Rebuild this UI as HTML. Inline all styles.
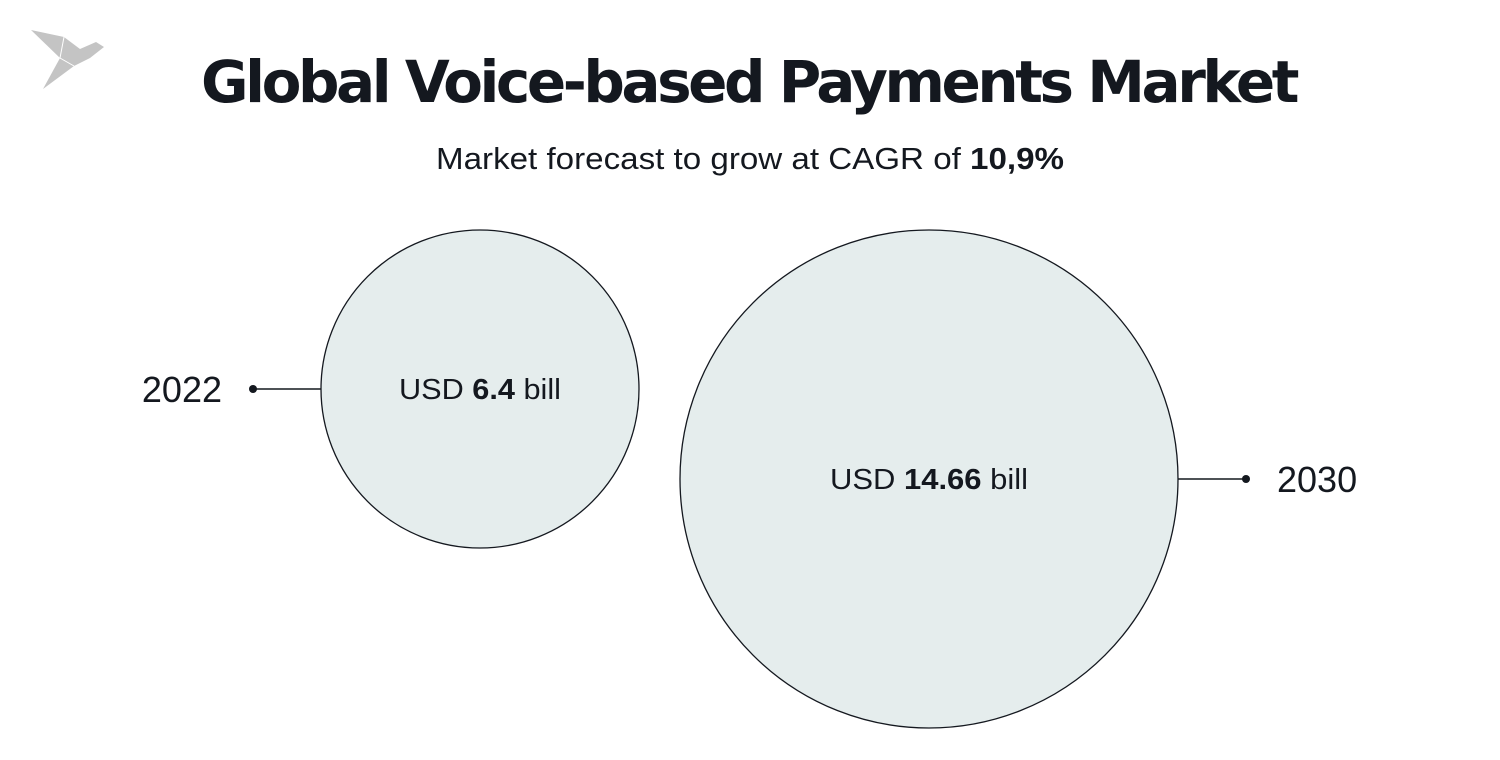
<!DOCTYPE html>
<html><head><meta charset="utf-8"><style>
body{margin:0;width:1500px;height:760px;background:#fff;overflow:hidden;font-family:"Liberation Sans",sans-serif;color:#14181f}
svg{position:absolute;left:0;top:0}
</style></head><body>
<svg width="1500" height="760" id="chart">
<g>
<polygon points="31,30 64,37 80,49 96,42 104,47 90,58 74,66 43,89 60,58" fill="#c4c4c4"/>
<polyline points="64,37 60,58 74,66" fill="none" stroke="#fff" stroke-width="1"/>
</g>
<text x="750" y="102" text-anchor="middle" font-size="58" font-weight="900" fill="#14181f" style="letter-spacing:-0.5px;font-family:'DejaVu Sans','Liberation Sans',sans-serif" textLength="1098">Global Voice-based Payments Market</text>
<text x="750" y="169" text-anchor="middle" font-size="31" fill="#14181f" textLength="628" lengthAdjust="spacingAndGlyphs">Market forecast to grow at CAGR of <tspan font-weight="bold">10,9%</tspan></text>
</svg>
<script>
const years=["2022","2030"];
const values=[6.4,14.66];
const labels=["6.4","14.66"];
const svg=document.getElementById('chart');
const NS='http://www.w3.org/2000/svg';
function rScale(v){return 159+(Math.sqrt(v)-Math.sqrt(6.4))*(90/(Math.sqrt(14.66)-Math.sqrt(6.4)));}
const cxs=[480,929],side=[-1,1],top0=230,widths=[162,198];
years.forEach((y,i)=>{
 const r=rScale(values[i]);const cx=cxs[i],cy=top0+r;
 const c=document.createElementNS(NS,'circle');
 c.setAttribute('cx',cx);c.setAttribute('cy',cy);c.setAttribute('r',r);
 c.setAttribute('fill','#e5eded');c.setAttribute('stroke','#14181f');c.setAttribute('stroke-width','1.3');
 
 
 svg.appendChild(c);
 const edge=cx+side[i]*r,end=edge+side[i]*68;
 const l=document.createElementNS(NS,'line');
 l.setAttribute('x1',edge);l.setAttribute('x2',end);l.setAttribute('y1',cy);l.setAttribute('y2',cy);
 l.setAttribute('stroke','#14181f');l.setAttribute('stroke-width','1.5');
 
 
 svg.appendChild(l);
 const d=document.createElementNS(NS,'circle');
 d.setAttribute('cx',end);d.setAttribute('cy',cy);d.setAttribute('r',4);d.setAttribute('fill','#14181f');
 
 
 svg.appendChild(d);
 const t=document.createElementNS(NS,'text');
 t.setAttribute('x',end+side[i]*31);t.setAttribute('y',cy+13);
 t.setAttribute('text-anchor',i==0?'end':'start');t.setAttribute('font-size','36');t.setAttribute('fill','#14181f');
 t.textContent=y;
 
 
 svg.appendChild(t);
 const v=document.createElementNS(NS,'text');
 v.setAttribute('x',cx);v.setAttribute('y',cy+10);v.setAttribute('text-anchor','middle');
 v.setAttribute('font-size','29');v.setAttribute('fill','#14181f');
 v.setAttribute('textLength',widths[i]);v.setAttribute('lengthAdjust','spacingAndGlyphs');
 v.innerHTML='USD <tspan font-weight="bold">'+labels[i]+'</tspan> bill';
 
 
 svg.appendChild(v);
});
</script>
</body></html>
